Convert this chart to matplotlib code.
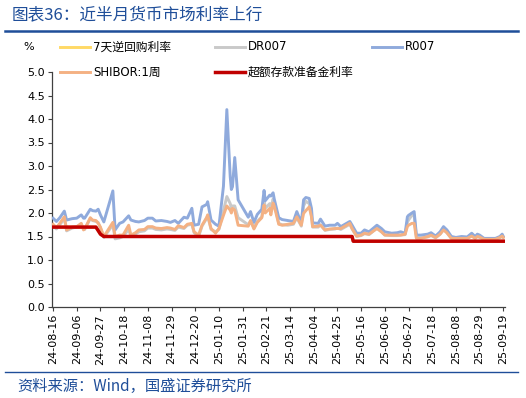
import matplotlib
matplotlib.use("Agg")
import matplotlib.pyplot as plt
import matplotlib.dates as mdates
from matplotlib.lines import Line2D
import pandas as pd
import numpy as np

plt.rcParams['font.family'] = ['DejaVu Sans', 'Noto Sans CJK SC']

# ---------------- data ----------------
dates = [
    "2024-08-16", "2024-08-19", "2024-08-22", "2024-08-26", "2024-08-28", "2024-09-02",
    "2024-09-06", "2024-09-10", "2024-09-12", "2024-09-13", "2024-09-18", "2024-09-20",
    "2024-09-23", "2024-09-25", "2024-09-27", "2024-09-30", "2024-10-08", "2024-10-10",
    "2024-10-14", "2024-10-17", "2024-10-22", "2024-10-24", "2024-10-28", "2024-10-31",
    "2024-11-05", "2024-11-08", "2024-11-12", "2024-11-15", "2024-11-20", "2024-11-25",
    "2024-11-28", "2024-12-02", "2024-12-05", "2024-12-10", "2024-12-13", "2024-12-17",
    "2024-12-19", "2024-12-23", "2024-12-26", "2024-12-30", "2024-12-31", "2025-01-03",
    "2025-01-07", "2025-01-10", "2025-01-14", "2025-01-17", "2025-01-20", "2025-01-21",
    "2025-01-22", "2025-01-24", "2025-01-27", "2025-02-05", "2025-02-07", "2025-02-10",
    "2025-02-13", "2025-02-17", "2025-02-19", "2025-02-20", "2025-02-24", "2025-02-25",
    "2025-02-27", "2025-02-28", "2025-03-04", "2025-03-07", "2025-03-12", "2025-03-17",
    "2025-03-20", "2025-03-24", "2025-03-26", "2025-03-28", "2025-03-31", "2025-04-02",
    "2025-04-03", "2025-04-08", "2025-04-10", "2025-04-14", "2025-04-18", "2025-04-23",
    "2025-04-25", "2025-04-28", "2025-05-06", "2025-05-08", "2025-05-12", "2025-05-16",
    "2025-05-19", "2025-05-23", "2025-05-30", "2025-06-03", "2025-06-06", "2025-06-12",
    "2025-06-17", "2025-06-20", "2025-06-24", "2025-06-26", "2025-06-27", "2025-06-30",
    "2025-07-02", "2025-07-04", "2025-07-08", "2025-07-14", "2025-07-17", "2025-07-21",
    "2025-07-25", "2025-07-28", "2025-07-31", "2025-08-04", "2025-08-08", "2025-08-13",
    "2025-08-18", "2025-08-22", "2025-08-25", "2025-08-27", "2025-08-29", "2025-09-02",
    "2025-09-08", "2025-09-12", "2025-09-16", "2025-09-18", "2025-09-19",
]

r007 = [
    1.89, 1.82, 1.90, 2.04, 1.85, 1.88,
    1.89, 1.96, 1.89, 1.89, 2.08, 2.05,
    2.04, 2.08, 1.96, 1.81, 2.47, 1.64,
    1.78, 1.81, 1.94, 1.85, 1.82, 1.81,
    1.84, 1.89, 1.89, 1.83, 1.84, 1.82,
    1.80, 1.84, 1.78, 1.91, 1.89, 2.10,
    1.74, 1.76, 2.13, 2.18, 2.24, 1.85,
    1.76, 1.72, 2.57, 4.20, 2.77, 2.50,
    2.56, 3.18, 2.28, 1.91, 2.03, 1.80,
    1.97, 2.08, 2.48, 2.26, 2.38, 2.36,
    2.43, 2.30, 1.90, 1.86, 1.84, 1.82,
    2.03, 1.79, 2.28, 2.33, 2.31, 2.10,
    1.79, 1.78, 1.87, 1.72, 1.74, 1.74,
    1.78, 1.71, 1.82, 1.74, 1.57, 1.57,
    1.64, 1.60, 1.74, 1.67, 1.60, 1.57,
    1.58, 1.60, 1.57, 1.92, 1.95, 2.00,
    2.03, 1.53, 1.53, 1.55, 1.58, 1.51,
    1.60, 1.71, 1.64, 1.50, 1.48, 1.50,
    1.49, 1.57, 1.50, 1.55, 1.53, 1.46,
    1.46, 1.46, 1.50, 1.55, 1.50,
]

shibor_1w = [
    1.76, 1.69, 1.78, 1.92, 1.64, 1.70,
    1.71, 1.78, 1.64, 1.66, 1.90, 1.85,
    1.84, 1.78, 1.70, 1.50, 1.80, 1.50,
    1.53, 1.53, 1.74, 1.53, 1.58, 1.64,
    1.65, 1.71, 1.71, 1.68, 1.67, 1.69,
    1.68, 1.65, 1.73, 1.69, 1.76, 1.78,
    1.60, 1.53, 1.74, 1.90, 1.96, 1.67,
    1.57, 1.67, 1.95, 2.15, 2.06, 2.00,
    2.10, 2.06, 1.74, 1.72, 1.84, 1.66,
    1.80, 1.90, 2.17, 2.00, 2.10, 1.96,
    2.21, 2.15, 1.76, 1.74, 1.76, 1.78,
    1.92, 1.74, 1.99, 2.05, 2.13, 1.92,
    1.71, 1.72, 1.74, 1.64, 1.66, 1.67,
    1.67, 1.67, 1.78, 1.67, 1.51, 1.53,
    1.57, 1.55, 1.67, 1.60, 1.53, 1.53,
    1.53, 1.53, 1.55, 1.71, 1.74, 1.78,
    1.78, 1.46, 1.46, 1.50, 1.53, 1.48,
    1.55, 1.64, 1.58, 1.46, 1.46, 1.46,
    1.46, 1.51, 1.46, 1.50, 1.49, 1.44,
    1.44, 1.44, 1.48, 1.51, 1.48,
]

dr007 = [
    1.72, 1.66, 1.75, 1.88, 1.62, 1.68,
    1.70, 1.76, 1.66, 1.65, 1.88, 1.84,
    1.82, 1.80, 1.68, 1.48, 1.75, 1.45,
    1.47, 1.50, 1.65, 1.50, 1.55, 1.60,
    1.62, 1.68, 1.68, 1.65, 1.64, 1.66,
    1.65, 1.63, 1.70, 1.67, 1.74, 1.76,
    1.58, 1.50, 1.72, 1.88, 1.94, 1.65,
    1.60, 1.65, 2.05, 2.35, 2.20, 2.10,
    2.15, 2.15, 1.90, 1.75, 1.83, 1.68,
    1.82, 1.92, 2.30, 2.10, 2.20, 2.10,
    2.30, 2.20, 1.78, 1.75, 1.74, 1.76,
    1.90, 1.72, 2.15, 2.25, 2.20, 1.95,
    1.70, 1.70, 1.75, 1.63, 1.65, 1.66,
    1.68, 1.65, 1.76, 1.66, 1.50, 1.52,
    1.56, 1.54, 1.68, 1.60, 1.53, 1.52,
    1.52, 1.53, 1.54, 1.80, 1.85, 1.95,
    1.95, 1.47, 1.47, 1.49, 1.52, 1.47,
    1.55, 1.65, 1.58, 1.46, 1.45, 1.46,
    1.45, 1.52, 1.46, 1.50, 1.48, 1.44,
    1.43, 1.44, 1.47, 1.51, 1.48,
]

policy_dates = ["2024-08-16", "2024-09-23", "2024-09-27", "2024-09-30",
                "2025-05-08", "2025-05-09", "2025-09-19"]
reverse_repo_7d = [1.70, 1.70, 1.55, 1.50, 1.50, 1.40, 1.40]
excess_reserve = [1.70, 1.70, 1.55, 1.50, 1.50, 1.40, 1.40]

labels = ["7天逆回购利率", "DR007", "R007", "SHIBOR:1周", "超额存款准备金利率"]
colors = ["#FFD966", "#C9C9C9", "#8FAADC", "#F4B183", "#C00000"]

x = pd.to_datetime(dates)
xp = pd.to_datetime(policy_dates)

# ---------------- figure ----------------
fig = plt.figure(figsize=(5.26, 3.98), dpi=100)
W, H = 526, 398

def fx(px):
    return px / W

def fy(py):
    return 1 - py / H

ax = fig.add_axes([fx(51.7), fy(307), fx(505) - fx(51.7), fy(72) - fy(307)])

LW = 2.1
ax.plot(xp, reverse_repo_7d, color=colors[0], lw=LW, zorder=2)
ax.plot(x, dr007, color=colors[1], lw=LW, zorder=3)
ax.plot(x, r007, color=colors[2], lw=LW, zorder=4)
ax.plot(x, shibor_1w, color=colors[3], lw=LW, zorder=5)
ax.plot(xp, excess_reserve, color=colors[4], lw=2.5, zorder=6)

start = pd.Timestamp("2024-08-16")
ticks = [start + pd.Timedelta(days=21 * i) for i in range(20)]
ax.set_xticks(ticks)
ax.xaxis.set_major_formatter(mdates.DateFormatter("%y-%m-%d"))
ax.set_xlim(start - pd.Timedelta(days=1.2), start + pd.Timedelta(days=400.5))
ax.set_ylim(0, 5)
ax.set_yticks(np.arange(0, 5.01, 0.5))
ax.yaxis.set_major_formatter(matplotlib.ticker.FormatStrFormatter("%.1f"))

for s in ["top", "right"]:
    ax.spines[s].set_visible(False)
for s in ["left", "bottom"]:
    ax.spines[s].set_color("#404040")
    ax.spines[s].set_linewidth(0.9)
ax.tick_params(axis="both", labelsize=8, colors="#404040", labelcolor="black",
               length=3, width=0.8, direction="out")
ax.tick_params(axis="x", rotation=90, pad=2)
ax.tick_params(axis="y", pad=2)

# "%" label
fig.text(fx(29), fy(47), "%", fontsize=8, ha="center", va="center")

# legend (manual placement)
leg_items = [
    (60, 47, 0), (215, 47, 1), (372, 47, 2),
    (60, 72, 3), (215, 72, 4),
]
for px, py, i in leg_items:
    fig.add_artist(Line2D([fx(px), fx(px + 30)], [fy(py), fy(py)],
                          color=colors[i], lw=2.5 if i == 4 else LW,
                          transform=fig.transFigure))
    fig.text(fx(px + 33), fy(py), labels[i], fontsize=8.5, ha="left", va="center",
             family=['DejaVu Sans', 'Noto Sans CJK SC'])

# title and rules
title_color = "#1F4E99"
fig.text(fx(12), fy(15), "图表36：近半月货币市场利率上行", fontsize=12,
         color=title_color, ha="left", va="center", style="italic",
         family=['Noto Sans CJK SC', 'DejaVu Sans'])
fig.add_artist(Line2D([fx(5), fx(518)], [fy(31), fy(31)], color=title_color,
                      lw=1.8, transform=fig.transFigure))
fig.add_artist(Line2D([fx(5), fx(518)], [fy(372), fy(372)], color=title_color,
                      lw=1.0, transform=fig.transFigure))
fig.text(fx(17), fy(386), "资料来源：Wind，国盛证券研究所", fontsize=11,
         color=title_color, ha="left", va="center", style="italic",
         family=['Noto Sans CJK SC', 'DejaVu Sans'])

fig.savefig("out.png", dpi=100)
